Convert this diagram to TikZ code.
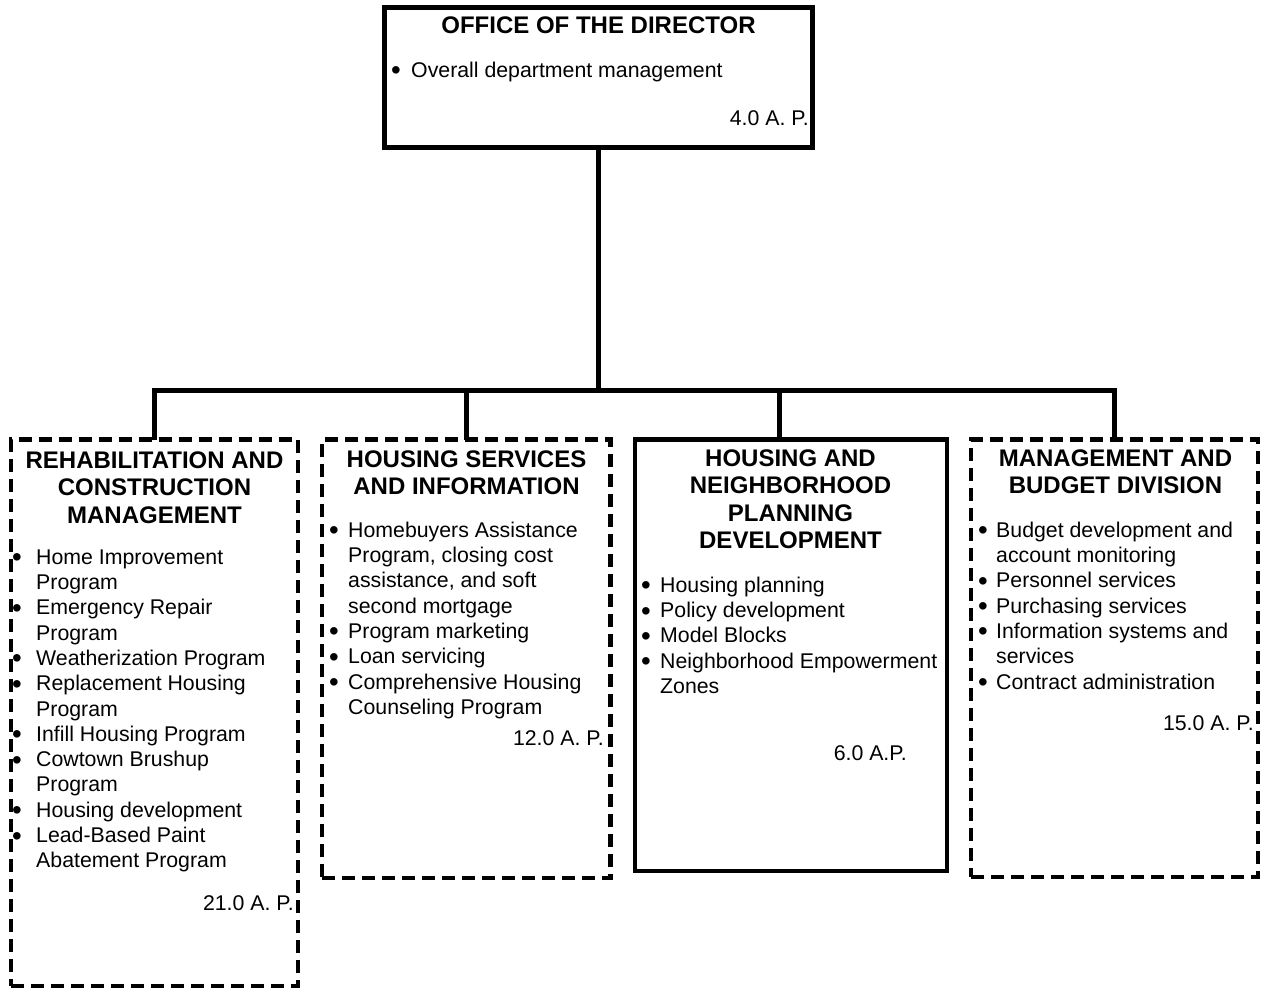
\documentclass[tikz,border=0pt]{standalone}
\usepackage{fontspec}
\setmainfont{Liberation Sans}
\usetikzlibrary{calc}
\newcommand\bodyfont{\fontsize{21.3}{25.3}\selectfont}
\newcommand\headfont{\fontsize{24}{27.5}\selectfont\bfseries}
% bullet hung to the left of the item text by #1
\newcommand\bul[1]{\llap{\makebox[#1][l]{\smash{\raisebox{-2.5pt}{\scalebox{1.3}{\textbullet}}}}}}
\begin{document}
\begin{tikzpicture}[x=1pt,y=-1pt,
  unit/.style={draw, line width=4.5pt, inner sep=0pt, outer sep=0pt},
  dunit/.style={unit, dash pattern=on 13pt off 7pt},
  conn/.style={line width=4.5pt},
  head/.style={font=\headfont, align=center, anchor=north, inner sep=0pt},
  items/.style={font=\bodyfont, align=left, anchor=north west, inner sep=0pt},
  ap/.style={font=\bodyfont, anchor=base east, inner sep=0pt}]
\useasboundingbox (0,0) rectangle (1264,990);

% boxes
\node[unit, minimum width=428pt, minimum height=140pt] (dir) at (598.5,77.5) {};
\node[dunit, minimum width=287pt, minimum height=546.5pt] (rcm) at (154.5,712.75) {};
\node[dunit, minimum width=288.5pt, minimum height=438.5pt] (hsi) at (466.25,658.75) {};
\node[unit, minimum width=312pt, minimum height=431.5pt] (hnp) at (791,655.25) {};
\node[dunit, minimum width=287pt, minimum height=437.5pt] (mbd) at (1114.5,658.25) {};

% connectors
\coordinate (bus) at (0,390.5);
\coordinate (hnptop) at ($(hnp.north)+(-11.5,0)$);
\draw[conn] (dir.south) -- (dir.south |- bus);
\draw[conn] (rcm.north) |- (mbd.north |- bus) -- (mbd.north);
\draw[conn] (hsi.north) -- (hsi.north |- bus);
\draw[conn] (hnptop) -- (hnptop |- bus);

% office of the director
\node[head] (dirt) at (598.5,13.75) {\strut OFFICE OF THE DIRECTOR};
\node[items] (diri) at (411,59.3) {\strut\bul{20pt}Overall department management};
\node[ap] (dirp) at (809,125) {4.0 A. P.};

% rehabilitation and construction management
\node[head] (rcmt) at (154.5,448.75) {\strut REHABILITATION AND\\CONSTRUCTION\\MANAGEMENT};
\node[items] (rcmi) at (36,546.3) {\strut\bul{24pt}Home Improvement\\Program\\
  \bul{24pt}Emergency Repair\\Program\\
  \bul{24pt}Weatherization Program\\
  \bul{24pt}Replacement Housing\\Program\\
  \bul{24pt}Infill Housing Program\\
  \bul{24pt}Cowtown Brushup\\Program\\
  \bul{24pt}Housing development\\
  \bul{24pt}Lead-Based Paint\\Abatement Program};
\node[ap] (rcmp) at (294,910) {21.0 A. P.};

% housing services and information
\node[head] (hsit) at (466.5,447.75) {\strut HOUSING SERVICES\\AND INFORMATION};
\node[items] (hsii) at (348,519.3) {\strut\bul{19pt}Homebuyers Assistance\\Program, closing cost\\assistance, and soft\\second mortgage\\
  \bul{19pt}Program marketing\\
  \bul{19pt}Loan servicing\\
  \bul{19pt}Comprehensive Housing\\Counseling Program};
\node[ap] (hsip) at (604,745) {12.0 A. P.};

% housing and neighborhood planning development
\node[head] (hnpt) at (790.5,446.75) {\strut HOUSING AND\\NEIGHBORHOOD\\PLANNING\\DEVELOPMENT};
\node[items] (hnpi) at (660,574.3) {\strut\bul{19pt}Housing planning\\
  \bul{19pt}Policy development\\
  \bul{19pt}Model Blocks\\
  \bul{19pt}Neighborhood Empowerment\\Zones};
\node[ap] (hnpp) at (907,760) {6.0 A.P.};

% management and budget division
\node[head] (mbdt) at (1115.5,446.75) {\strut MANAGEMENT AND\\BUDGET DIVISION};
\node[items] (mbdi) at (996,519.3) {\strut\bul{18pt}Budget development and\\account monitoring\\
  \bul{18pt}Personnel services\\
  \bul{18pt}Purchasing services\\
  \bul{18pt}Information systems and\\services\\
  \bul{18pt}Contract administration};
\node[ap] (mbdp) at (1254,730) {15.0 A. P.};
\end{tikzpicture}
\end{document}
